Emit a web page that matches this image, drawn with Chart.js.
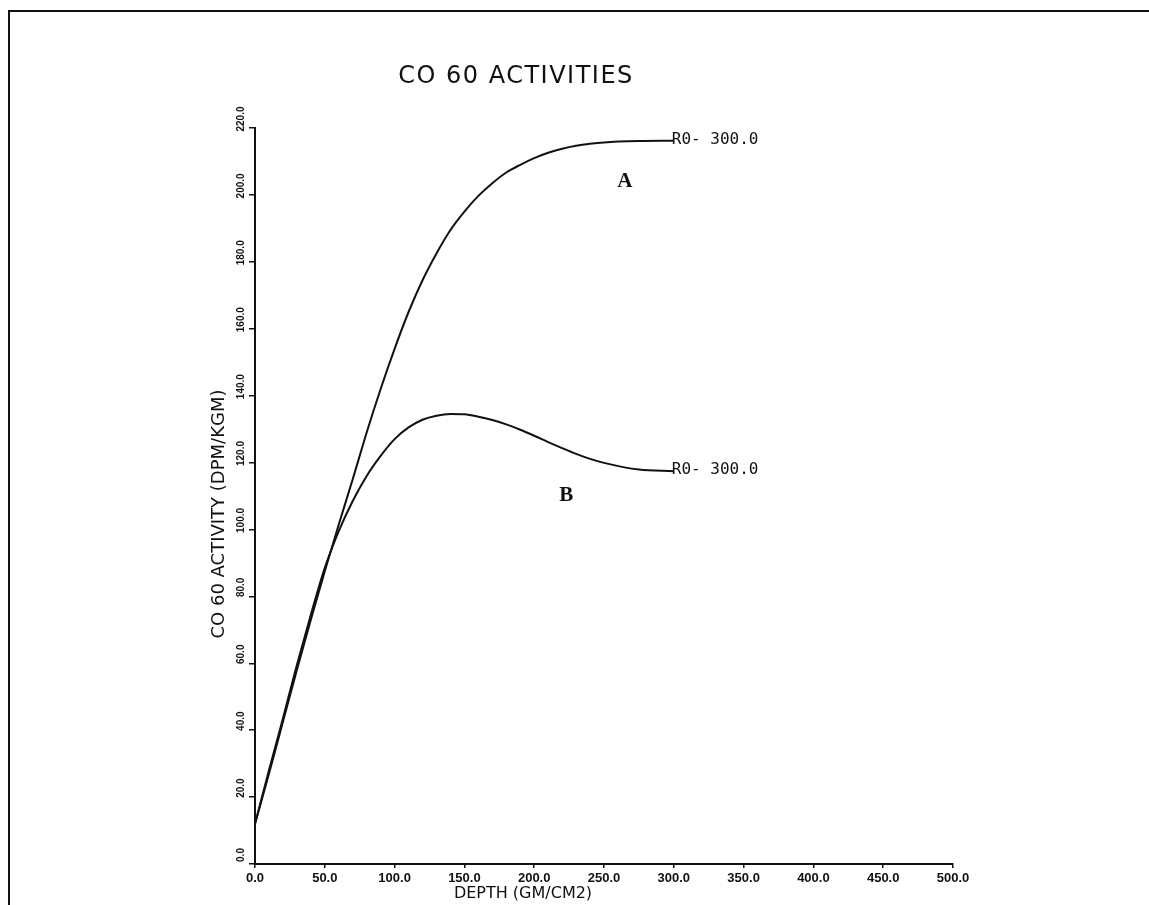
<!DOCTYPE html>
<html>
<head>
<meta charset="utf-8">
<title>CO 60 Activities</title>
<script src="https://cdn.jsdelivr.net/npm/chart.js@4/dist/chart.umd.min.js"></script>
<style>
  html, body { margin: 0; padding: 0; background: #fff; }
  #wrap { position: relative; width: 1149px; height: 905px; overflow: hidden; }
  #frame { position: absolute; left: 8px; top: 10px; right: -10px; bottom: -10px;
           border-top: 2px solid #111; border-left: 2px solid #111; }
  canvas { position: absolute; left: 0; top: 0; }
</style>
</head>
<body>
<div id="wrap">
  <div id="frame"></div>
  <canvas id="chart" width="1149" height="905"></canvas>
</div>
<script>
// depth in gm/cm2, activities in dpm/kgm
const depth = [0, 10, 20, 30, 40, 50, 60, 70, 80, 90, 100, 110, 120, 130, 140, 150,
               160, 170, 180, 190, 200, 210, 220, 230, 240, 250, 275, 300];
const activityA = [12, 27, 42.5, 58, 73, 87.5, 101.5, 115, 129, 142, 154, 165, 174.5, 182.5, 189.5, 195,
                   199.7, 203.5, 206.7, 209, 211, 212.6, 213.8, 214.7, 215.3, 215.7, 216.1, 216.2];
const activityB = [12, 28, 43.5, 59.5, 74.5, 88.5, 99.5, 108.5, 116, 122, 127, 130.5, 132.8, 134, 134.5, 134.4,
                   133.7, 132.7, 131.4, 129.8, 128, 126.1, 124.3, 122.6, 121.1, 119.9, 117.9, 117.4];

const xTicks = [0, 50, 100, 150, 200, 250, 300, 350, 400, 450, 500];
const yTicks = [0, 20, 40, 60, 80, 100, 120, 140, 160, 180, 200, 220];

const titleText = 'CO 60 ACTIVITIES';
const xTitle = 'DEPTH (GM/CM2)';
const yTitle = 'CO 60 ACTIVITY (DPM/KGM)';
const endLabel = 'R0- 300.0';
const curveNames = ['A', 'B'];
const curveNamePos = [[265, 204], [223, 110]]; // data coords of the A / B marks

const toPoints = ys => depth.map((d, i) => ({ x: d, y: ys[i] }));

// draws the title, axis titles and the curve annotations
const textPlugin = {
  id: 'plotText',
  afterDraw(chart) {
    const ctx = chart.ctx;
    const xs = chart.scales.x;
    const ys = chart.scales.y;
    ctx.save();
    ctx.fillStyle = '#111';
    ctx.textAlign = 'center';
    ctx.textBaseline = 'middle';

    ctx.font = '24px "DejaVu Sans"';
    ctx.letterSpacing = '1.5px';
    ctx.fillText(titleText, 516, 77);
    ctx.letterSpacing = '0px';

    ctx.font = '16px "DejaVu Sans"';
    ctx.fillText(xTitle, 523, 894);

    ctx.save();
    ctx.translate(219, 514);
    ctx.rotate(-Math.PI / 2);
    ctx.font = '18px "DejaVu Sans"';
    ctx.fillText(yTitle, 0, 0);
    ctx.restore();

    // R0 labels at the end of each curve
    ctx.font = '16px "DejaVu Sans Mono"';
    ctx.textAlign = 'left';
    ctx.textBaseline = 'alphabetic';
    [activityA, activityB].forEach(arr => {
      const last = arr.length - 1;
      const px = xs.getPixelForValue(depth[last]);
      const py = ys.getPixelForValue(arr[last]);
      ctx.fillText(endLabel, px - 2, py + 3);
    });

    ctx.font = 'bold 21px "Liberation Serif"';
    ctx.textAlign = 'center';
    ctx.textBaseline = 'middle';
    curveNames.forEach((name, i) => {
      ctx.fillText(name, xs.getPixelForValue(curveNamePos[i][0]), ys.getPixelForValue(curveNamePos[i][1]));
    });
    ctx.restore();
  }
};

const lineStyle = {
  borderColor: '#111',
  borderWidth: 2,
  pointRadius: 0,
  fill: false,
  cubicInterpolationMode: 'monotone'
};

new Chart(document.getElementById('chart'), {
  type: 'line',
  data: {
    datasets: [
      Object.assign({ label: 'A', data: toPoints(activityA) }, lineStyle),
      Object.assign({ label: 'B', data: toPoints(activityB) }, lineStyle)
    ]
  },
  options: {
    responsive: false,
    devicePixelRatio: 1,
    animation: false,
    layout: { padding: { left: 195, right: 196, top: 128, bottom: 0 } },
    plugins: {
      legend: { display: false },
      tooltip: { enabled: false }
    },
    scales: {
      x: {
        type: 'linear',
        min: 0,
        max: 500,
        afterBuildTicks: s => { s.ticks = xTicks.map(v => ({ value: v })); },
        afterFit: s => { s.height = 41; },
        grid: { drawOnChartArea: false, drawTicks: true, tickLength: 4, color: '#111', lineWidth: 1.5 },
        border: { display: true, color: '#111', width: 2 },
        ticks: {
          color: '#111',
          padding: 3,
          maxRotation: 0,
          font: { family: 'Liberation Sans', size: 13, weight: 'bold' },
          callback: v => v.toFixed(1)
        }
      },
      y: {
        min: 0,
        max: 220,
        afterBuildTicks: s => { s.ticks = yTicks.map(v => ({ value: v })); },
        afterFit: s => { s.width = 60; },
        grid: { drawOnChartArea: false, drawTicks: true, tickLength: 6, color: '#111', lineWidth: 1.5 },
        border: { display: true, color: '#111', width: 2 },
        ticks: {
          color: '#111',
          padding: -5,
          labelOffset: -9,
          minRotation: 90,
          maxRotation: 90,
          crossAlign: 'center',
          font: { family: 'Liberation Sans', size: 10, weight: 'bold' },
          callback: v => v.toFixed(1)
        }
      }
    }
  },
  plugins: [textPlugin]
});
</script>
</body>
</html>
